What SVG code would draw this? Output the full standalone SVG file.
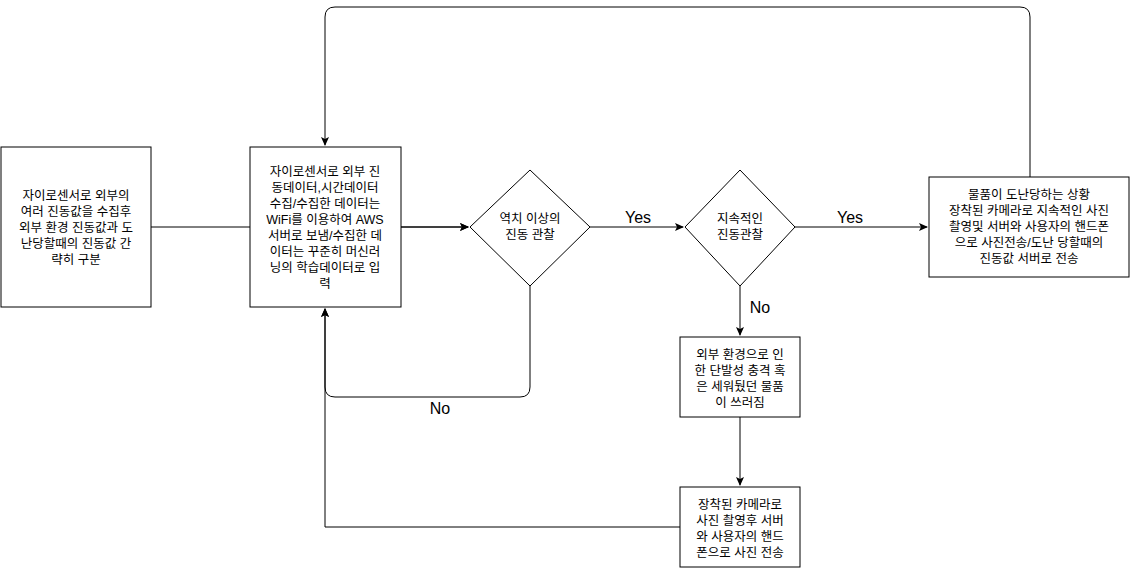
<svg xmlns="http://www.w3.org/2000/svg" width="1131" height="568" viewBox="0 0 1131 568">
<style>
.n{fill:#fff;stroke:#000;stroke-width:1}
.t{font-family:"Liberation Sans","Noto Sans CJK KR",sans-serif;font-size:12.5px;text-anchor:middle;fill:#000}
.l{font-family:"Liberation Sans","Noto Sans CJK KR",sans-serif;font-size:16px;text-anchor:middle;fill:#000}
.c{fill:none;stroke:#000;stroke-width:1}
</style>
<defs><marker id="a" markerWidth="10" markerHeight="10" refX="8" refY="5" orient="auto" markerUnits="userSpaceOnUse"><path d="M0,1 L9,5 L0,9 L2,5 Z" fill="#000"/></marker></defs>
<rect width="1131" height="568" fill="#fff"/>
<g id="connectors">
<path class="c" d="M151,227 H468" marker-end="url(#a)"/>
<path class="c" d="M401,227 H468" marker-end="url(#a)"/>
<path class="c" d="M590,227 H683" marker-end="url(#a)"/>
<path class="c" d="M795,227 H927" marker-end="url(#a)"/>
<path class="c" d="M1030,177 V17 Q1030,7 1020,7 H335 Q325,7 325,17 V145" marker-end="url(#a)"/>
<path class="c" d="M530,286 V387 Q530,397 520,397 H335 Q325,397 325,387 V309" marker-end="url(#a)"/>
<path class="c" d="M740,286 V335" marker-end="url(#a)"/>
<path class="c" d="M740,417 V485" marker-end="url(#a)"/>
<path class="c" d="M680,527 H325 V309" marker-end="url(#a)"/>
<text class="l" x="638" y="223">Yes</text>
<text class="l" x="850" y="223">Yes</text>
<text class="l" x="760" y="313">No</text>
<text class="l" x="440" y="414">No</text>
</g>
<g id="n1"><rect class="n" x="1" y="147" width="150" height="160"/>
<text class="t"><tspan x="76" y="200">자이로센서로 외부의</tspan><tspan x="76" y="216">여러 진동값을 수집후</tspan><tspan x="76" y="232">외부 환경 진동값과 도</tspan><tspan x="76" y="248">난당할때의 진동값 간</tspan><tspan x="76" y="264">략히 구분</tspan></text></g>
<g id="n2"><rect class="n" x="250" y="147" width="151" height="160"/>
<text class="t"><tspan x="325" y="176">자이로센서로 외부 진</tspan><tspan x="325" y="192">동데이터,시간데이터</tspan><tspan x="325" y="208">수집/수집한 데이터는</tspan><tspan x="325" y="224">WiFi를 이용하여 AWS</tspan><tspan x="325" y="240">서버로 보냄/수집한 데</tspan><tspan x="325" y="256">이터는 꾸준히 머신러</tspan><tspan x="325" y="272">닝의 학습데이터로 입</tspan><tspan x="325" y="288">력</tspan></text></g>
<g id="d1"><path class="n" d="M530,170 L590,227 L530,286 L470,227 Z"/>
<text class="t"><tspan x="530" y="223">역치 이상의</tspan><tspan x="530" y="239">진동 관찰</tspan></text></g>
<g id="d2"><path class="n" d="M740,170 L795,227 L740,286 L685,227 Z"/>
<text class="t"><tspan x="740" y="223">지속적인</tspan><tspan x="740" y="239">진동관찰</tspan></text></g>
<g id="n3"><rect class="n" x="929" y="177" width="200" height="100"/>
<text class="t"><tspan x="1029" y="199">물품이 도난당하는 상황</tspan><tspan x="1029" y="215">장착된 카메라로 지속적인 사진</tspan><tspan x="1029" y="231">촬영및 서버와 사용자의 핸드폰</tspan><tspan x="1029" y="247">으로 사진전송/도난 당할때의</tspan><tspan x="1029" y="263">진동값 서버로 전송</tspan></text></g>
<g id="n4"><rect class="n" x="680" y="337" width="120" height="80"/>
<text class="t"><tspan x="740" y="359">외부 환경으로 인</tspan><tspan x="740" y="375">한 단발성 충격 혹</tspan><tspan x="740" y="391">은 세워뒀던 물품</tspan><tspan x="740" y="407">이 쓰러짐</tspan></text></g>
<g id="n5"><rect class="n" x="680" y="487" width="120" height="80"/>
<text class="t"><tspan x="740" y="509">장착된 카메라로</tspan><tspan x="740" y="525">사진 촬영후 서버</tspan><tspan x="740" y="541">와 사용자의 핸드</tspan><tspan x="740" y="557">폰으로 사진 전송</tspan></text></g>
</svg>
